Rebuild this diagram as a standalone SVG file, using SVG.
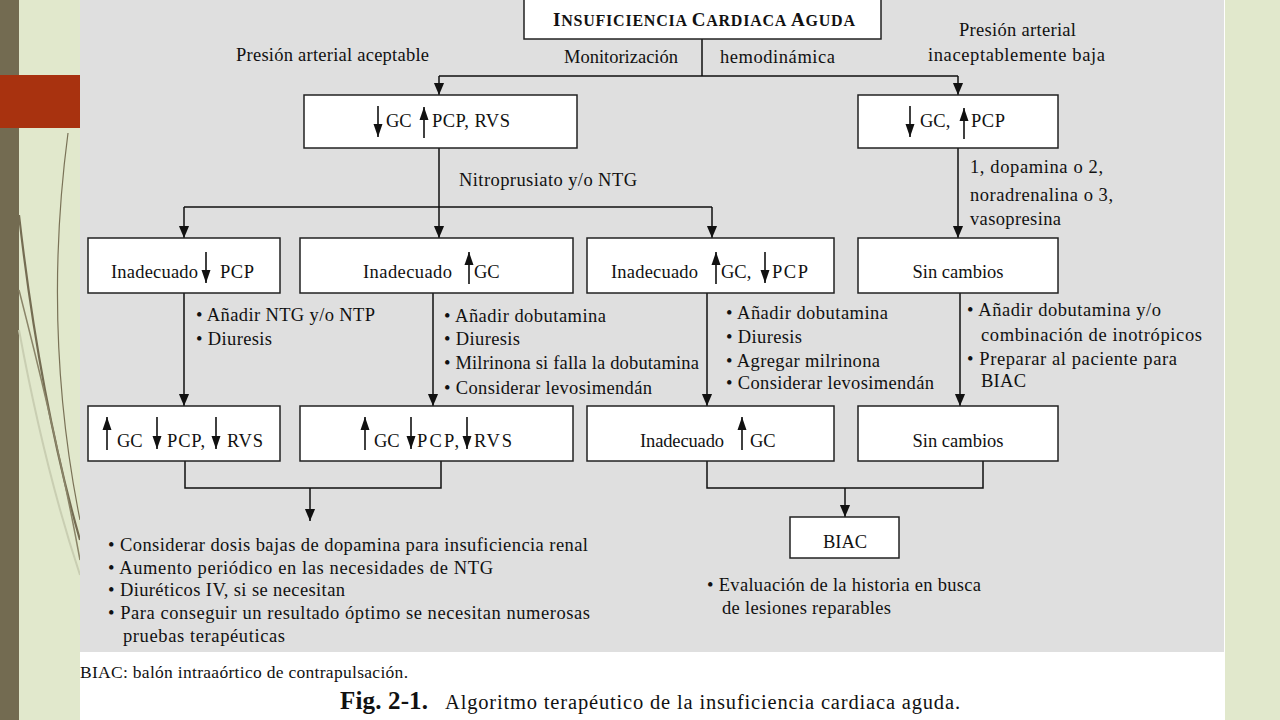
<svg xmlns="http://www.w3.org/2000/svg" width="1280" height="720" viewBox="0 0 1280 720">
<defs>
<style>
text{font-family:"Liberation Serif","Times New Roman",serif;fill:#111;font-size:18.5px}
.box{fill:#fff;stroke:#222;stroke-width:1.5}
.con{fill:none;stroke:#111;stroke-width:1.5}
.ia{stroke:#111;stroke-width:1.6}
.mid{text-anchor:middle}
.bl{font-size:18.5px}
</style>
<marker id="ah" markerUnits="userSpaceOnUse" markerWidth="12" markerHeight="14" refX="13" refY="5.5" orient="auto" viewBox="0 0 13 11"><path d="M0,0 L13,5.5 L0,11 z" fill="#111"/></marker>
<marker id="sa" markerUnits="userSpaceOnUse" markerWidth="13" markerHeight="10" refX="13" refY="4.5" orient="auto" viewBox="0 0 13 9"><path d="M0,0 L13,4.5 L0,9 z" fill="#111"/></marker>
</defs>
<rect x="0" y="0" width="1280" height="720" fill="#fff"/>
<g id="decor">
<rect x="0" y="0" width="19" height="720" fill="#736b51"/>
<rect x="19" y="0" width="61" height="720" fill="#e1e8cc"/>
<rect x="1225" y="0" width="55" height="720" fill="#e1e8cc"/>
<rect x="0" y="75" width="80" height="53" fill="#a8320f"/>
<path d="M68,133 Q42,330 80,520" fill="none" stroke="#7a7257" stroke-width="1.2"/>
<path d="M19,215 Q40,400 80,540" fill="none" stroke="#746c52" stroke-width="2.2"/>
<path d="M19,330 Q45,470 80,575" fill="none" stroke="#c9ceb2" stroke-width="2"/>
<path d="M19,290 Q60,450 80,560" fill="none" stroke="#8a8468" stroke-width="1.5"/>
<rect x="80" y="0" width="1144" height="652" fill="#dfdfdf"/>
</g>
<g id="connectors">
<path class="con" d="M702,39 V76 M439,76 H958"/>
<path class="con" d="M439,76 V95" marker-end="url(#ah)"/>
<path class="con" d="M958,76 V95" marker-end="url(#ah)"/>
<path class="con" d="M439,148 V238" marker-end="url(#ah)"/>
<path class="con" d="M184,207 H712"/>
<path class="con" d="M184,207 V238" marker-end="url(#ah)"/>
<path class="con" d="M712,207 V238" marker-end="url(#ah)"/>
<path class="con" d="M958,148 V238" marker-end="url(#ah)"/>
<path class="con" d="M184,293 V406" marker-end="url(#ah)"/>
<path class="con" d="M433,293 V406" marker-end="url(#ah)"/>
<path class="con" d="M707,293 V406" marker-end="url(#ah)"/>
<path class="con" d="M960,293 V406" marker-end="url(#ah)"/>
<path class="con" d="M185,461 V488 H441 V461"/>
<path class="con" d="M310,488 V521" marker-end="url(#ah)"/>
<path class="con" d="M707,461 V488 H983 V461"/>
<path class="con" d="M845,488 V517" marker-end="url(#ah)"/>
</g>
<g id="labels">
<text x="236" y="61" textLength="193">Presión arterial aceptable</text>
<text x="564" y="63" textLength="114">Monitorización</text>
<text x="720" y="63" textLength="115">hemodinámica</text>
<text x="959" y="36" textLength="117">Presión arterial</text>
<text x="928" y="61" textLength="177">inaceptablemente baja</text>
<text x="459" y="186" textLength="178">Nitroprusiato y/o NTG</text>
<text x="970" y="173" textLength="133">1, dopamina o 2,</text>
<text x="970" y="201" textLength="143">noradrenalina o 3,</text>
<text x="970" y="225" textLength="91">vasopresina</text>
</g>
<g id="n-title">
<rect class="box" x="524" y="-2" width="357" height="41"/>
<text x="553" y="26" textLength="302" style="font-size:16px;font-weight:bold"><tspan style="font-size:19px">I</tspan>NSUFICIENCIA <tspan style="font-size:19px">C</tspan>ARDIACA <tspan style="font-size:19px">A</tspan>GUDA</text>
</g>
<g id="n-acept">
<rect class="box" x="304" y="95" width="273" height="53"/>
<line class="ia" x1="378" y1="106" x2="378" y2="137" marker-end="url(#sa)"/>
<text x="386" y="127">GC</text>
<line class="ia" x1="424" y1="138" x2="424" y2="107" marker-end="url(#sa)"/>
<text x="432" y="127" textLength="78">PCP, RVS</text>
</g>
<g id="n-baja">
<rect class="box" x="858" y="95" width="200" height="53"/>
<line class="ia" x1="910" y1="106" x2="910" y2="137" marker-end="url(#sa)"/>
<text x="920" y="127">GC,</text>
<line class="ia" x1="964" y1="139" x2="964" y2="108" marker-end="url(#sa)"/>
<text x="971" y="127" textLength="34">PCP</text>
</g>
<g id="n-a">
<rect class="box" x="88" y="238" width="192" height="55"/>
<text x="111" y="278" textLength="87">Inadecuado</text>
<line class="ia" x1="206" y1="252" x2="206" y2="283" marker-end="url(#sa)"/>
<text x="220" y="278" textLength="34">PCP</text>
</g>
<g id="n-b">
<rect class="box" x="300" y="238" width="273" height="55"/>
<text x="363" y="278" textLength="89">Inadecuado</text>
<line class="ia" x1="469" y1="284" x2="469" y2="252" marker-end="url(#sa)"/>
<text x="474" y="278">GC</text>
</g>
<g id="n-c">
<rect class="box" x="587" y="238" width="247" height="55"/>
<text x="611" y="278" textLength="87">Inadecuado</text>
<line class="ia" x1="716" y1="284" x2="716" y2="252" marker-end="url(#sa)"/>
<text x="721" y="278">GC,</text>
<line class="ia" x1="765" y1="252" x2="765" y2="283" marker-end="url(#sa)"/>
<text x="772" y="278" textLength="36">PCP</text>
</g>
<g id="n-d">
<rect class="box" x="858" y="238" width="200" height="55"/>
<text x="958" y="278" class="mid">Sin cambios</text>
</g>
<g id="t-a">
<text x="196" y="321" class="bl" textLength="179">• Añadir NTG y/o NTP</text>
<text x="196" y="345" class="bl" textLength="76">• Diuresis</text>
</g>
<g id="t-b">
<text x="444" y="322" class="bl" textLength="162">• Añadir dobutamina</text>
<text x="444" y="345" class="bl" textLength="76">• Diuresis</text>
<text x="444" y="369" class="bl" textLength="255">• Milrinona si falla la dobutamina</text>
<text x="444" y="394" class="bl" textLength="208">• Considerar levosimendán</text>
</g>
<g id="t-c">
<text x="726" y="319" class="bl" textLength="162">• Añadir dobutamina</text>
<text x="726" y="343" class="bl" textLength="76">• Diuresis</text>
<text x="726" y="367" class="bl" textLength="154">• Agregar milrinona</text>
<text x="726" y="389" class="bl" textLength="208">• Considerar levosimendán</text>
</g>
<g id="t-d">
<text x="967" y="316" class="bl" textLength="194">• Añadir dobutamina y/o</text>
<text x="981" y="341" class="bl" textLength="221">combinación de inotrópicos</text>
<text x="967" y="365" class="bl" textLength="210">• Preparar al paciente para</text>
<text x="981" y="387" class="bl" textLength="45">BIAC</text>
</g>
<g id="n-a2">
<rect class="box" x="88" y="406" width="192" height="55"/>
<line class="ia" x1="107" y1="450" x2="107" y2="417" marker-end="url(#sa)"/>
<text x="117" y="447">GC</text>
<line class="ia" x1="157" y1="417" x2="157" y2="449" marker-end="url(#sa)"/>
<text x="167" y="447" textLength="38">PCP,</text>
<line class="ia" x1="216" y1="417" x2="216" y2="449" marker-end="url(#sa)"/>
<text x="227" y="447" textLength="36">RVS</text>
</g>
<g id="n-b2">
<rect class="box" x="300" y="406" width="273" height="55"/>
<line class="ia" x1="365" y1="450" x2="365" y2="417" marker-end="url(#sa)"/>
<text x="374" y="447">GC</text>
<line class="ia" x1="411" y1="417" x2="411" y2="449" marker-end="url(#sa)"/>
<text x="417" y="447" textLength="42">PCP,</text>
<line class="ia" x1="467" y1="417" x2="467" y2="449" marker-end="url(#sa)"/>
<text x="474" y="447" textLength="38">RVS</text>
</g>
<g id="n-c2">
<rect class="box" x="587" y="406" width="247" height="55"/>
<text x="640" y="447" textLength="84">Inadecuado</text>
<line class="ia" x1="742" y1="450" x2="742" y2="417" marker-end="url(#sa)"/>
<text x="750" y="447">GC</text>
</g>
<g id="n-d2">
<rect class="box" x="858" y="406" width="200" height="55"/>
<text x="958" y="447" class="mid">Sin cambios</text>
</g>
<g id="t-bottom-left">
<text x="108" y="551" class="bl" textLength="480">• Considerar dosis bajas de dopamina para insuficiencia renal</text>
<text x="108" y="574" class="bl" textLength="385">• Aumento periódico en las necesidades de NTG</text>
<text x="108" y="596" class="bl" textLength="237">• Diuréticos IV, si se necesitan</text>
<text x="108" y="619" class="bl" textLength="482">• Para conseguir un resultado óptimo se necesitan numerosas</text>
<text x="123" y="642" class="bl" textLength="162">pruebas terapéuticas</text>
</g>
<g id="n-biac">
<rect class="box" x="790" y="517" width="109" height="41"/>
<text x="845" y="548" class="mid">BIAC</text>
</g>
<g id="t-biac">
<text x="707" y="591" class="bl" textLength="274">• Evaluación de la historia en busca</text>
<text x="722" y="614" class="bl" textLength="169">de lesiones reparables</text>
</g>
<g id="caption">
<text x="80" y="678" style="font-size:17.5px" textLength="328">BIAC: balón intraaórtico de contrapulsación.</text>
<text x="340" y="709" style="font-size:25px;font-weight:bold" textLength="88">Fig. 2-1.</text>
<text x="445" y="709" style="font-size:20.5px" textLength="515">Algoritmo terapéutico de la insuficiencia cardiaca aguda.</text>
</g>
</svg>
